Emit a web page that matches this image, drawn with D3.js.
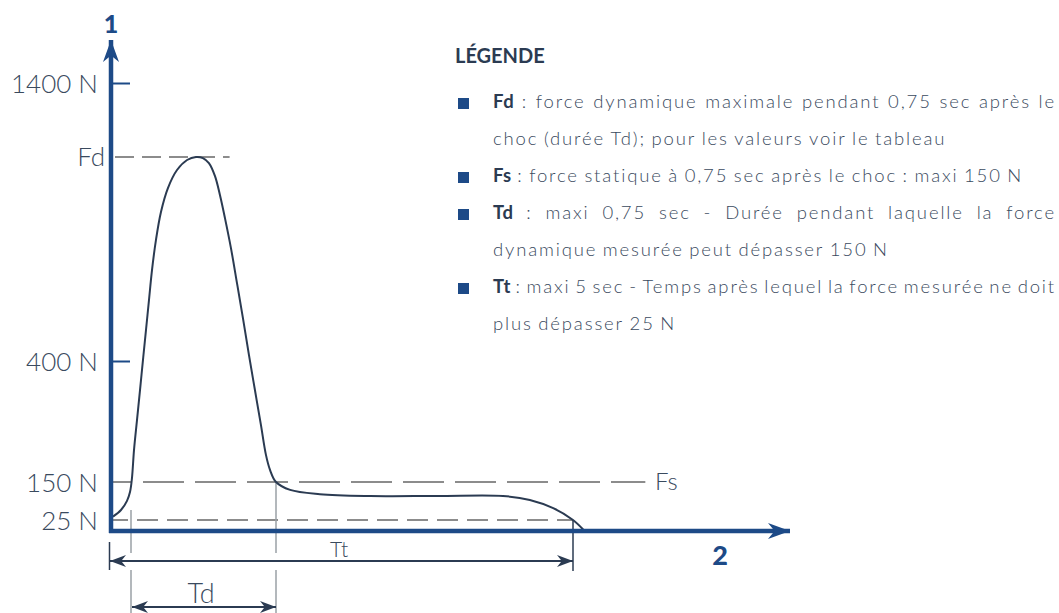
<!DOCTYPE html>
<html>
<head>
<meta charset="utf-8">
<script src="https://cdn.jsdelivr.net/npm/d3@7"></script>
<style>
  body { margin: 0; background: #fff; }
  svg { display: block; font-family: Lato, "Noto Sans", sans-serif; }
</style>
</head>
<body>
<div id="chart"></div>
<script>
// force axis (N) - the drawing is schematic, so the scale is piecewise
var forceTicks = [25, 150, 400, 1400];
var forceTickLabels = ["25 N", "150 N", "400 N", "1400 N"];
var forceBreaks = [0, 25, 150, 400, 1400];

// time axis (sec), also piecewise
var timeBreaks = [0, 0.05, 0.8, 5, 6.5];

// measured force curve
var curveTime  = [0.005, 0.025, 0.04, 0.0475, 0.055, 0.0655, 0.081, 0.0966, 0.112, 0.1276, 0.143, 0.1586, 0.179, 0.205,
                  0.241, 0.288, 0.34, 0.386, 0.422, 0.453, 0.4845, 0.51, 0.536, 0.567, 0.598, 0.629, 0.66, 0.691,
                  0.722, 0.748, 0.769, 0.8, 1.0, 1.42, 2.13, 3.08, 4.01, 4.39, 4.72, 5.0, 5.08];
var curveForce = [36, 58, 88, 117, 158, 216, 278, 340, 404, 512, 619, 727, 835, 936,
                  1022, 1087, 1123, 1134, 1130, 1112, 1065, 997, 914, 806, 681, 554, 422, 340,
                  268, 206, 175, 150, 124, 110, 104, 104, 104, 91, 64, 25, 0];

// reference levels
var fdValue = 1134, fsValue = 150, lowValue = 25;
var tdStart = 0.05, tdEnd = 0.8, ttEnd = 5;

var legendTitle = "LÉGENDE";
var legendItems = [
  {key: "Fd", lines: [": force dynamique maximale pendant 0,75 sec après le", "choc (durée Td); pour les valeurs voir le tableau"]},
  {key: "Fs", lines: [": force statique à 0,75 sec après le choc : maxi 150 N"]},
  {key: "Td", lines: [": maxi 0,75 sec - Durée pendant laquelle la force", "dynamique mesurée peut dépasser 150 N"]},
  {key: "Tt", lines: [": maxi 5 sec - Temps après lequel la force mesurée ne doit", "plus dépasser 25 N"]}
];

var W = 1059, H = 613;
var blue = "#1d4a87", ink = "#2b3b52", txt = "#3a4a5e", grey = "#8c8c8c";

var y = d3.scaleLinear().domain(forceBreaks).range([531, 520, 482, 361, 83]);
var x = d3.scaleLinear().domain(timeBreaks).range([111, 131, 276, 573, 790]);

var svg = d3.select("#chart").append("svg").attr("width", W).attr("height", H);

var defs = svg.append("defs");
function marker(id, color, w, h) {
  defs.append("marker").attr("id", id)
    .attr("viewBox", "0 0 " + w + " " + h)
    .attr("refX", w).attr("refY", h / 2)
    .attr("markerWidth", w).attr("markerHeight", h)
    .attr("markerUnits", "userSpaceOnUse")
    .attr("orient", "auto-start-reverse")
    .append("path")
    .attr("d", "M0,0 L" + w + "," + (h / 2) + " L0," + h + " L" + (w * 0.3) + "," + (h / 2) + " Z")
    .attr("fill", color);
}
marker("axisArrow", blue, 22, 16);
marker("dimArrow", ink, 16, 12);

// dashed reference lines
var g = svg.append("g");
g.append("line").attr("x1", x(0)).attr("x2", x(0.56)).attr("y1", y(fdValue)).attr("y2", y(fdValue))
  .attr("stroke", grey).attr("stroke-width", 2).attr("stroke-dasharray", "19,8").attr("stroke-dashoffset", -4);
g.append("line").attr("x1", x(0)).attr("x2", x(5.5)).attr("y1", y(fsValue)).attr("y2", y(fsValue))
  .attr("stroke", grey).attr("stroke-width", 2).attr("stroke-dasharray", "41,11").attr("stroke-dashoffset", 20);
g.append("line").attr("x1", x(0)).attr("x2", x(ttEnd)).attr("y1", y(lowValue)).attr("y2", y(lowValue))
  .attr("stroke", grey).attr("stroke-width", 2).attr("stroke-dasharray", "21,9").attr("stroke-dashoffset", 4);

// extension lines
var ext = [
  {t: tdStart, y1: 510, y2: 553, c: "#9aa0a6"},
  {t: tdStart, y1: 570, y2: 613, c: "#9aa0a6"},
  {t: tdEnd, y1: y(fsValue), y2: 553, c: "#9aa0a6"},
  {t: tdEnd, y1: 570, y2: 613, c: "#9aa0a6"},
  {t: ttEnd, y1: y(lowValue), y2: 571, c: ink}
];
g.selectAll(".ext").data(ext).enter().append("line")
  .attr("x1", function (d) { return x(d.t); }).attr("x2", function (d) { return x(d.t); })
  .attr("y1", function (d) { return d.y1; }).attr("y2", function (d) { return d.y2; })
  .attr("stroke", function (d) { return d.c; }).attr("stroke-width", 1.5);
g.append("line").attr("x1", x(0) - 1.5).attr("x2", x(0) - 1.5).attr("y1", 542).attr("y2", 570)
  .attr("stroke", ink).attr("stroke-width", 1.5);

// dimension arrows
g.append("line").attr("x1", x(0) - 1).attr("x2", x(ttEnd)).attr("y1", 561).attr("y2", 561)
  .attr("stroke", ink).attr("stroke-width", 2)
  .attr("marker-start", "url(#dimArrow)").attr("marker-end", "url(#dimArrow)");
g.append("line").attr("x1", x(tdStart) + 1).attr("x2", x(tdEnd)).attr("y1", 607).attr("y2", 607)
  .attr("stroke", ink).attr("stroke-width", 2)
  .attr("marker-start", "url(#dimArrow)").attr("marker-end", "url(#dimArrow)");
g.append("text").attr("x", 339).attr("y", 557).attr("text-anchor", "middle")
  .attr("font-size", 21).attr("font-weight", 300).attr("fill", txt).text("Tt");
g.append("text").attr("x", 201).attr("y", 603).attr("text-anchor", "middle")
  .attr("font-size", 27).attr("font-weight", 300).attr("fill", txt).text("Td");

// curve
var pts = curveTime.map(function (t, i) { return [t, curveForce[i]]; });
var line = d3.line().x(function (d) { return x(d[0]); }).y(function (d) { return y(d[1]); })
  .curve(d3.curveCatmullRom.alpha(0.5));
svg.append("path").datum(pts).attr("d", line)
  .attr("fill", "none").attr("stroke", ink).attr("stroke-width", 2);

// axes
svg.append("line").attr("x1", x(0)).attr("x2", x(0)).attr("y1", y(0) + 2).attr("y2", 40)
  .attr("stroke", blue).attr("stroke-width", 4.5).attr("marker-end", "url(#axisArrow)");
svg.append("line").attr("x1", x(0) - 2).attr("x2", 790).attr("y1", y(0)).attr("y2", y(0))
  .attr("stroke", blue).attr("stroke-width", 4.5).attr("marker-end", "url(#axisArrow)");

var yAxis = d3.axisLeft(y).tickValues(forceTicks).tickSize(0).tickPadding(0)
  .tickFormat(function (d, i) { return forceTickLabels[i]; });
var ya = svg.append("g").attr("transform", "translate(" + x(0) + ",0)").call(yAxis);
ya.select(".domain").remove();
ya.selectAll(".tick text").attr("x", -13).attr("dy", "0.36em")
  .attr("font-size", 26).attr("font-family", "Lato, sans-serif").attr("font-weight", 300).attr("fill", txt);
// small tick marks on the two upper values
ya.selectAll(".tick").filter(function (d) { return d >= 400; }).append("line")
  .attr("x1", 0).attr("x2", 19).attr("stroke", blue).attr("stroke-width", 2);

svg.append("text").attr("text-anchor", "end")
  .attr("font-size", 26).attr("font-weight", 300).attr("fill", txt).text("Fd")
  .attr("x", 105).attr("y", y(fdValue) + 9);
svg.append("text").attr("x", 655).attr("y", y(fsValue) + 8)
  .attr("font-size", 24).attr("font-weight", 300).attr("fill", txt).text("Fs");

svg.append("text").attr("x", x(0)).attr("y", 33).attr("text-anchor", "middle")
  .attr("font-size", 25).attr("font-weight", 900).attr("fill", blue).text("1");
svg.append("text").attr("x", 720).attr("y", 565).attr("text-anchor", "middle")
  .attr("font-size", 27).attr("font-weight", 900).attr("fill", blue).text("2");

// legend
var lg = svg.append("g");
lg.append("text").attr("x", 455).attr("y", 63).attr("font-size", 20).attr("font-weight", 700)
  .attr("fill", ink).text(legendTitle);

var lx = 493, rightEdge = 1056, fs = 18.5, ls = 1.85, lineStep = 37;
var baseline = 108;
legendItems.forEach(function (item) {
  lg.append("rect").attr("x", 458).attr("y", baseline - 10).attr("width", 11).attr("height", 11).attr("fill", blue);
  item.lines.forEach(function (ln, li) {
    var words = [];
    if (li === 0) words.push({s: item.key, bold: true});
    ln.split(" ").forEach(function (w) { words.push({s: w, bold: false}); });
    var nodes = words.map(function (w) {
      return lg.append("text").attr("y", baseline).attr("font-size", fs)
        .attr("letter-spacing", w.bold ? 0.5 : ls)
        .attr("font-weight", w.bold ? 700 : 300).attr("fill", w.bold ? ink : txt).text(w.s);
    });
    var widths = nodes.map(function (n) { return n.node().getComputedTextLength(); });
    var space = fs * 0.3;
    var justify = item.lines.length > 1 && li < item.lines.length - 1;
    if (justify) {
      space = (rightEdge - lx - d3.sum(widths)) / (nodes.length - 1);
    }
    var cx = lx;
    nodes.forEach(function (n, i) { n.attr("x", cx); cx += widths[i] + space; });
    baseline += lineStep;
  });
});
</script>
</body>
</html>
